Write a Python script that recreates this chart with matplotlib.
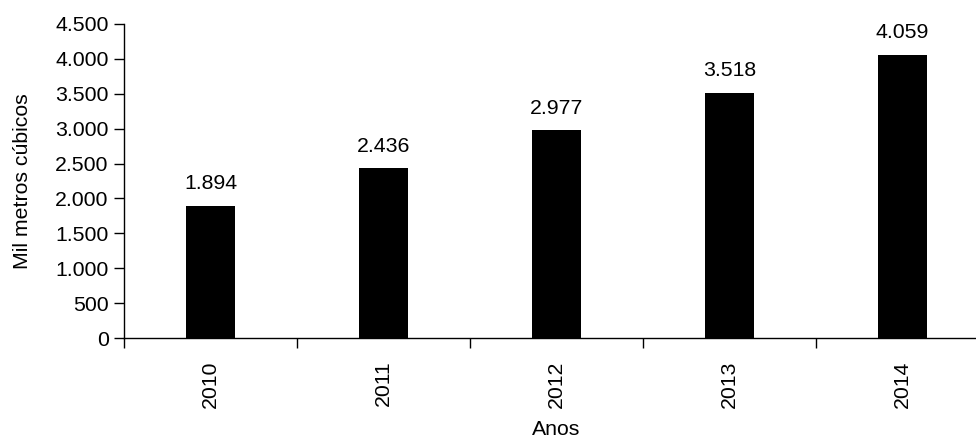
import numpy as np
import matplotlib
matplotlib.use("Agg")
import matplotlib.pyplot as plt
from matplotlib.ticker import FuncFormatter, FixedLocator

anos = ["2010", "2011", "2012", "2013", "2014"]
volumes = [1894, 2436, 2977, 3518, 4059]
y_ticks = [0, 500, 1000, 1500, 2000, 2500, 3000, 3500, 4000, 4500]

plt.rcParams["font.family"] = ["Liberation Sans", "DejaVu Sans"]
FS = 15.3


def br_fmt(v, pos=None):
    return f"{int(round(v)):,}".replace(",", ".")


fig = plt.figure(figsize=(9.76, 4.43), dpi=100)
ax = fig.add_axes([124 / 976, 105 / 443, 865 / 976, 314 / 443])

x = np.arange(len(anos))
bars = ax.bar(x, volumes, width=0.285, color="black")
for xi, v in zip(x, volumes):
    ax.annotate(br_fmt(v), (xi, v), xytext=(0, 9), textcoords="offset points",
                ha="center", va="bottom", fontsize=FS)

ax.set_xlim(-0.5, len(anos) - 0.5)
ax.set_ylim(0, 4500)
ax.set_yticks(y_ticks)
ax.yaxis.set_major_formatter(FuncFormatter(br_fmt))

ax.set_xticks(x)
ax.set_xticklabels(anos, rotation=90)
ax.xaxis.set_minor_locator(FixedLocator(np.arange(-0.5, len(anos), 1.0)))
ax.tick_params(axis="x", which="major", length=0, pad=16, labelsize=FS)
ax.tick_params(axis="x", which="minor", length=7, width=1, direction="out")
ax.tick_params(axis="y", length=7, width=1, direction="out", labelsize=FS, pad=4)

for s in ["top", "right"]:
    ax.spines[s].set_visible(False)
for s in ["left", "bottom"]:
    ax.spines[s].set_linewidth(1)

ax.set_ylabel("Mil metros cúbicos", fontsize=FS, labelpad=17)
ax.set_xlabel("Anos", fontsize=FS, labelpad=9)

fig.savefig("out.png", dpi=100)
